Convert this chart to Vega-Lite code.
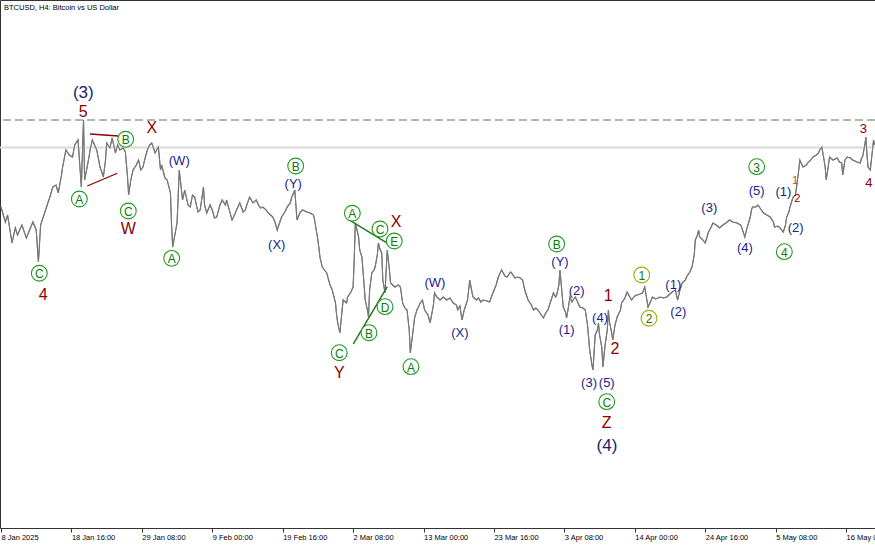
{
"$schema": "https://vega.github.io/schema/vega-lite/v6.json",
"width": 875, "height": 528,
"autosize": "none",
"padding": {"left": 0, "top": 0, "right": 0, "bottom": 17},
"background": "#ffffff",
"title": {"text": "BTCUSD, H4:  Bitcoin vs US Dollar", "anchor": "start", "frame": "group", "orient": "top", "offset": 0, "dy": 11, "dx": 4, "fontSize": 7.5, "font": "Liberation Sans", "fontWeight": "normal", "color": "#000000"},
"config": {"view": {"stroke": "#333333", "strokeWidth": 1}},
"datasets": {
"hl": [{"p":105200,"s":"solid"},{"p":109000,"s":"dash"}],
"px": [
{"b":0,"p":96990},{"b":4,"p":94920},{"b":6,"p":95890},{"b":10,"p":92030},{"b":13,"p":94100},{"b":15,"p":93130},{"b":19,"p":94510},{"b":23,"p":92720},{"b":26,"p":93820},{"b":29,"p":94920},{"b":32,"p":93820},{"b":34,"p":89400},{"b":36,"p":94510},{"b":39,"p":95890},{"b":42,"p":97270},{"b":45,"p":98650},{"b":47,"p":99750},{"b":50,"p":100030},{"b":52,"p":98930},{"b":55,"p":101410},{"b":56,"p":102510},{"b":59,"p":104860},{"b":62,"p":104170},{"b":65,"p":103890},{"b":67,"p":105550},{"b":70,"p":106240},{"b":73,"p":99750},{"b":75,"p":109000},{"b":76,"p":100720},{"b":79,"p":103070},{"b":81,"p":104860},{"b":83,"p":106240},{"b":85,"p":105550},{"b":87,"p":104860},{"b":90,"p":102510},{"b":93,"p":101130},{"b":95,"p":103480},{"b":96,"p":105830},{"b":99,"p":105140},{"b":101,"p":106520},{"b":104,"p":104450},{"b":106,"p":105550},{"b":108,"p":104860},{"b":111,"p":105140},{"b":113,"p":104580},{"b":115,"p":101130},{"b":116,"p":98650},{"b":118,"p":100720},{"b":120,"p":102100},{"b":123,"p":102790},{"b":125,"p":103480},{"b":127,"p":102100},{"b":129,"p":102510},{"b":131,"p":103760},{"b":133,"p":104860},{"b":135,"p":105550},{"b":137,"p":105830},{"b":140,"p":104450},{"b":143,"p":105270},{"b":145,"p":102100},{"b":146,"p":102790},{"b":149,"p":101000},{"b":151,"p":100720},{"b":154,"p":98930},{"b":155,"p":94510},{"b":156,"p":91470},{"b":158,"p":93130},{"b":160,"p":94790},{"b":162,"p":102100},{"b":165,"p":97960},{"b":167,"p":99340},{"b":170,"p":97270},{"b":172,"p":96990},{"b":174,"p":98650},{"b":176,"p":98370},{"b":179,"p":96300},{"b":181,"p":96580},{"b":184,"p":99750},{"b":185,"p":97270},{"b":187,"p":96170},{"b":190,"p":97270},{"b":192,"p":96580},{"b":194,"p":95480},{"b":196,"p":95610},{"b":199,"p":97270},{"b":201,"p":97960},{"b":204,"p":97270},{"b":205,"p":97960},{"b":208,"p":96300},{"b":210,"p":95200},{"b":213,"p":96170},{"b":214,"p":96580},{"b":217,"p":97550},{"b":220,"p":96300},{"b":222,"p":96580},{"b":224,"p":97550},{"b":226,"p":98370},{"b":229,"p":97550},{"b":232,"p":97960},{"b":234,"p":97270},{"b":236,"p":96860},{"b":238,"p":96990},{"b":241,"p":96580},{"b":243,"p":96170},{"b":245,"p":95890},{"b":247,"p":95610},{"b":249,"p":94920},{"b":251,"p":93820},{"b":254,"p":95200},{"b":255,"p":95610},{"b":258,"p":96300},{"b":260,"p":96990},{"b":263,"p":97550},{"b":264,"p":98240},{"b":267,"p":99340},{"b":269,"p":95200},{"b":272,"p":96300},{"b":274,"p":96580},{"b":278,"p":96300},{"b":281,"p":96170},{"b":284,"p":95890},{"b":285,"p":95200},{"b":288,"p":92440},{"b":290,"p":89960},{"b":292,"p":88710},{"b":294,"p":88300},{"b":296,"p":87890},{"b":299,"p":86230},{"b":301,"p":85540},{"b":304,"p":83750},{"b":305,"p":82090},{"b":306,"p":80990},{"b":308,"p":79610},{"b":310,"p":82780},{"b":311,"p":84160},{"b":314,"p":83750},{"b":315,"p":84570},{"b":318,"p":85260},{"b":320,"p":85950},{"b":321,"p":89680},{"b":322,"p":94790},{"b":324,"p":93540},{"b":325,"p":92850},{"b":326,"p":91060},{"b":328,"p":90090},{"b":330,"p":86230},{"b":331,"p":84160},{"b":333,"p":82780},{"b":334,"p":81810},{"b":335,"p":85540},{"b":337,"p":87890},{"b":339,"p":88300},{"b":340,"p":88710},{"b":342,"p":90370},{"b":343,"p":92030},{"b":344,"p":91340},{"b":346,"p":90650},{"b":347,"p":86920},{"b":349,"p":85130},{"b":351,"p":91060},{"b":353,"p":88300},{"b":354,"p":86510},{"b":356,"p":86230},{"b":358,"p":85950},{"b":361,"p":86230},{"b":363,"p":85950},{"b":364,"p":84850},{"b":365,"p":83750},{"b":367,"p":83060},{"b":369,"p":82780},{"b":371,"p":80020},{"b":372,"p":76850},{"b":374,"p":79330},{"b":376,"p":81810},{"b":378,"p":82780},{"b":381,"p":83750},{"b":383,"p":84160},{"b":385,"p":82780},{"b":388,"p":82090},{"b":390,"p":80990},{"b":393,"p":83470},{"b":394,"p":85130},{"b":396,"p":84570},{"b":399,"p":84160},{"b":402,"p":84570},{"b":405,"p":84160},{"b":408,"p":84440},{"b":411,"p":83750},{"b":414,"p":83470},{"b":415,"p":82780},{"b":417,"p":83330},{"b":419,"p":81400},{"b":421,"p":82780},{"b":424,"p":84160},{"b":426,"p":86920},{"b":428,"p":85260},{"b":429,"p":84570},{"b":432,"p":84160},{"b":434,"p":84440},{"b":436,"p":83880},{"b":438,"p":84160},{"b":442,"p":84020},{"b":444,"p":83880},{"b":447,"p":85130},{"b":450,"p":86230},{"b":452,"p":87330},{"b":454,"p":88020},{"b":455,"p":88300},{"b":458,"p":87470},{"b":460,"p":87330},{"b":463,"p":88020},{"b":464,"p":87890},{"b":467,"p":87200},{"b":469,"p":87330},{"b":472,"p":87200},{"b":474,"p":86920},{"b":476,"p":85540},{"b":479,"p":84160},{"b":482,"p":83470},{"b":484,"p":82780},{"b":486,"p":83060},{"b":488,"p":82780},{"b":491,"p":82090},{"b":493,"p":81680},{"b":495,"p":82370},{"b":497,"p":82780},{"b":500,"p":84160},{"b":502,"p":85130},{"b":504,"p":84570},{"b":505,"p":84850},{"b":507,"p":86230},{"b":508,"p":88300},{"b":510,"p":84850},{"b":511,"p":83190},{"b":513,"p":82500},{"b":514,"p":81680},{"b":516,"p":83470},{"b":517,"p":84570},{"b":519,"p":83880},{"b":520,"p":84160},{"b":522,"p":84570},{"b":524,"p":83880},{"b":526,"p":83190},{"b":529,"p":83060},{"b":531,"p":82780},{"b":533,"p":80710},{"b":534,"p":79050},{"b":535,"p":77260},{"b":537,"p":75190},{"b":538,"p":74500},{"b":540,"p":79330},{"b":542,"p":80020},{"b":543,"p":80990},{"b":544,"p":79330},{"b":546,"p":77670},{"b":547,"p":74910},{"b":549,"p":77950},{"b":551,"p":80020},{"b":552,"p":82780},{"b":553,"p":81120},{"b":555,"p":79610},{"b":556,"p":78640},{"b":558,"p":80710},{"b":560,"p":81810},{"b":563,"p":82780},{"b":564,"p":83750},{"b":567,"p":84440},{"b":569,"p":85260},{"b":572,"p":84440},{"b":573,"p":84160},{"b":576,"p":84710},{"b":578,"p":84850},{"b":581,"p":84990},{"b":583,"p":85130},{"b":585,"p":85950},{"b":587,"p":84160},{"b":588,"p":83190},{"b":591,"p":84160},{"b":592,"p":84570},{"b":595,"p":84300},{"b":599,"p":84570},{"b":602,"p":84440},{"b":605,"p":84570},{"b":608,"p":84990},{"b":610,"p":85260},{"b":613,"p":85540},{"b":614,"p":84710},{"b":615,"p":84160},{"b":617,"p":85540},{"b":619,"p":86510},{"b":622,"p":86920},{"b":623,"p":87330},{"b":626,"p":88020},{"b":628,"p":88710},{"b":630,"p":90370},{"b":631,"p":92440},{"b":633,"p":93130},{"b":634,"p":93820},{"b":635,"p":92850},{"b":638,"p":92440},{"b":640,"p":92030},{"b":643,"p":93540},{"b":645,"p":94100},{"b":647,"p":94790},{"b":650,"p":94510},{"b":653,"p":94100},{"b":656,"p":94510},{"b":660,"p":94920},{"b":662,"p":95200},{"b":665,"p":94920},{"b":669,"p":94790},{"b":672,"p":94510},{"b":673,"p":94230},{"b":676,"p":92850},{"b":678,"p":94100},{"b":681,"p":95610},{"b":682,"p":96580},{"b":683,"p":96990},{"b":686,"p":96990},{"b":688,"p":97270},{"b":691,"p":96580},{"b":693,"p":96170},{"b":696,"p":95890},{"b":699,"p":95610},{"b":702,"p":94920},{"b":703,"p":94230},{"b":706,"p":94370},{"b":708,"p":94100},{"b":711,"p":93540},{"b":713,"p":94510},{"b":714,"p":95610},{"b":716,"p":96300},{"b":717,"p":96990},{"b":719,"p":97960},{"b":720,"p":98370},{"b":722,"p":98650},{"b":723,"p":99750},{"b":725,"p":102100},{"b":726,"p":103480},{"b":728,"p":102790},{"b":729,"p":102510},{"b":732,"p":102790},{"b":733,"p":103070},{"b":736,"p":103480},{"b":738,"p":103890},{"b":741,"p":104170},{"b":743,"p":104450},{"b":744,"p":104860},{"b":746,"p":105270},{"b":748,"p":103480},{"b":749,"p":102510},{"b":750,"p":100720},{"b":752,"p":102790},{"b":753,"p":103890},{"b":756,"p":103480},{"b":760,"p":103760},{"b":762,"p":103200},{"b":764,"p":103070},{"b":765,"p":101410},{"b":767,"p":103480},{"b":769,"p":103890},{"b":772,"p":103760},{"b":774,"p":103480},{"b":778,"p":103200},{"b":781,"p":103070},{"b":782,"p":103760},{"b":783,"p":103890},{"b":785,"p":105550},{"b":786,"p":106650},{"b":787,"p":104170},{"b":788,"p":102510},{"b":790,"p":102100},{"b":792,"p":104860},{"b":793,"p":106240},{"b":794,"p":105550}
],
"lb": [
{"b":74.8,"p":112690,"t":"(3)","k":"N"},
{"b":74.8,"p":110150,"t":"5","k":"r"},
{"b":71.2,"p":98100,"t":"A","k":"c"},
{"b":113.3,"p":106340,"t":"B","k":"c"},
{"b":137,"p":107860,"t":"X","k":"r"},
{"b":115.7,"p":96440,"t":"C","k":"c"},
{"b":115.7,"p":93920,"t":"W","k":"r"},
{"b":34.8,"p":87850,"t":"C","k":"c"},
{"b":38.4,"p":84850,"t":"4","k":"r"},
{"b":162,"p":103380,"t":"(W)","k":"n"},
{"b":155.1,"p":89910,"t":"A","k":"c"},
{"b":267.8,"p":102650,"t":"B","k":"c"},
{"b":265.6,"p":100170,"t":"(Y)","k":"n"},
{"b":250.6,"p":91750,"t":"(X)","k":"n"},
{"b":319.3,"p":96130,"t":"A","k":"c"},
{"b":344.4,"p":93960,"t":"C","k":"c"},
{"b":359,"p":94880,"t":"X","k":"r"},
{"b":357.4,"p":92300,"t":"E","k":"c"},
{"b":349,"p":83240,"t":"D","k":"c"},
{"b":334.4,"p":79650,"t":"B","k":"c"},
{"b":307.4,"p":76890,"t":"C","k":"c"},
{"b":307.4,"p":74130,"t":"Y","k":"r"},
{"b":372.6,"p":74960,"t":"A","k":"c"},
{"b":394.4,"p":86470,"t":"(W)","k":"n"},
{"b":417.1,"p":79650,"t":"(X)","k":"n"},
{"b":505,"p":91890,"t":"B","k":"c"},
{"b":508,"p":89450,"t":"(Y)","k":"n"},
{"b":514.1,"p":80020,"t":"(1)","k":"n"},
{"b":523.2,"p":85440,"t":"(2)","k":"n"},
{"b":534.4,"p":72670,"t":"(3)","k":"n"},
{"b":544.4,"p":81640,"t":"(4)","k":"n"},
{"b":550.5,"p":72670,"t":"(5)","k":"n"},
{"b":550.5,"p":70130,"t":"C","k":"c"},
{"b":550.5,"p":67230,"t":"Z","k":"r"},
{"b":550.7,"p":64010,"t":"(4)","k":"N"},
{"b":551.9,"p":84750,"t":"1","k":"r"},
{"b":558,"p":77360,"t":"2","k":"r"},
{"b":582.3,"p":87610,"t":"1","k":"y"},
{"b":588.9,"p":81640,"t":"2","k":"y"},
{"b":611,"p":86230,"t":"(1)","k":"n"},
{"b":615.5,"p":82550,"t":"(2)","k":"n"},
{"b":643.7,"p":96820,"t":"(3)","k":"n"},
{"b":676.1,"p":91300,"t":"(4)","k":"n"},
{"b":686.8,"p":99200,"t":"(5)","k":"n"},
{"b":686.8,"p":102560,"t":"3","k":"c"},
{"b":711,"p":99110,"t":"(1)","k":"n"},
{"b":721.6,"p":100580,"t":"1","k":"o"},
{"b":723.7,"p":98060,"t":"2","k":"s"},
{"b":722.2,"p":94060,"t":"(2)","k":"n"},
{"b":711.9,"p":90830,"t":"4","k":"c"},
{"b":783.7,"p":107760,"t":"3","k":"m"},
{"b":788.8,"p":100350,"t":"4","k":"m"}
],
"tl": [
{"b":80.9,"p":107070,"b2":106.6,"p2":106790,"g":"r"},
{"b":78.4,"p":99890,"b2":105.7,"p2":101650,"g":"r"},
{"b":315.6,"p":95300,"b2":357.4,"p2":91430,"g":"g"},
{"b":320.2,"p":78090,"b2":351.1,"p2":86000,"g":"g"}
]
},
"layer": [
{"data": {"name": "px"},
 "mark": {"type": "line", "color": "#787878", "strokeWidth": 1.1},
 "encoding": {
  "x": {"field": "b", "type": "quantitative", "title": null, "scale": {"domain": [-0.91, 794.3], "nice": false, "zero": false},
   "axis": {"title": null, "domain": false, "grid": false, "ticks": true, "tickSize": 4, "tickColor": "#333333",
    "values": [0, 64, 128, 192, 256, 320, 384, 448, 512, 576, 640, 704, 768],
    "labelExpr": "utcFormat(utc(2025,0,8) + datum.value*14400000, datum.value == 0 ? '%-d %b %Y' : '%-d %b %H:%M')",
    "labelFont": "Liberation Sans", "labelFontSize": 7.5, "labelColor": "#000000", "labelAlign": "left", "labelBaseline": "top",
    "labelPadding": 1, "labelOverlap": false, "labelBound": false, "labelFlush": false}},
  "y": {"field": "p", "type": "quantitative", "title": null, "scale": {"domain": [52696, 125560], "nice": false, "zero": false}, "axis": null}}},
{"data": {"name": "hl"}, "transform": [{"filter": "datum.s == 'solid'"}],
 "mark": {"type": "rule", "color": "#dadada", "strokeWidth": 2},
 "encoding": {"y": {"field": "p", "type": "quantitative", "title": null, "axis": null}}},
{"data": {"name": "hl"}, "transform": [{"filter": "datum.s == 'dash'"}],
 "mark": {"type": "rule", "color": "#5a755a", "strokeWidth": 1, "strokeDash": [8, 4]},
 "encoding": {"y": {"field": "p", "type": "quantitative", "title": null, "axis": null}}},
{"data": {"name": "px"},
 "mark": {"type": "line", "color": "#787878", "strokeWidth": 1.1},
 "encoding": {"x": {"field": "b", "type": "quantitative", "title": null}, "y": {"field": "p", "type": "quantitative", "title": null, "axis": null}}},
{"data": {"name": "tl"}, "transform": [{"filter": "datum.g == 'r'"}],
 "mark": {"type": "rule", "color": "#8b0000", "strokeWidth": 1.3},
 "encoding": {"x": {"field": "b", "type": "quantitative", "title": null}, "y": {"field": "p", "type": "quantitative", "title": null, "axis": null},
  "x2": {"field": "b2"}, "y2": {"field": "p2"}}},
{"data": {"name": "tl"}, "transform": [{"filter": "datum.g == 'g'"}],
 "mark": {"type": "rule", "color": "#1f7a1f", "strokeWidth": 1.5},
 "encoding": {"x": {"field": "b", "type": "quantitative", "title": null}, "y": {"field": "p", "type": "quantitative", "title": null, "axis": null},
  "x2": {"field": "b2"}, "y2": {"field": "p2"}}},
{"data": {"name": "lb"}, "transform": [{"filter": "datum.k == 'c'"}],
 "mark": {"type": "point", "shape": "circle", "size": 250, "filled": true, "fill": "#ffffff", "fillOpacity": 1, "stroke": "#229922", "strokeWidth": 1.1, "opacity": 1},
 "encoding": {"x": {"field": "b", "type": "quantitative", "title": null}, "y": {"field": "p", "type": "quantitative", "title": null, "axis": null}}},
{"data": {"name": "lb"}, "transform": [{"filter": "datum.k == 'y'"}],
 "mark": {"type": "point", "shape": "circle", "size": 250, "filled": true, "fill": "#ffffff", "fillOpacity": 1, "stroke": "#a8a800", "strokeWidth": 1.1, "opacity": 1},
 "encoding": {"x": {"field": "b", "type": "quantitative", "title": null}, "y": {"field": "p", "type": "quantitative", "title": null, "axis": null}}},
{"data": {"name": "lb"}, "transform": [{"filter": "datum.k == 'c' || datum.k == 'y'"}],
 "mark": {"type": "text", "font": "Liberation Sans", "fontSize": 12, "color": "#0d7a0d", "align": "center", "baseline": "middle", "dy": 1},
 "encoding": {"x": {"field": "b", "type": "quantitative", "title": null}, "y": {"field": "p", "type": "quantitative", "title": null, "axis": null}, "text": {"field": "t"}}},
{"data": {"name": "lb"}, "transform": [{"filter": "datum.k == 'n'"}],
 "mark": {"type": "text", "font": "Liberation Sans", "fontSize": 13, "color": "#1c1c8a", "align": "center", "baseline": "middle"},
 "encoding": {"x": {"field": "b", "type": "quantitative", "title": null}, "y": {"field": "p", "type": "quantitative", "title": null, "axis": null}, "text": {"field": "t"}}},
{"data": {"name": "lb"}, "transform": [{"filter": "datum.k == 'N'"}],
 "mark": {"type": "text", "font": "Liberation Sans", "fontSize": 17, "color": "#1c1c6e", "align": "center", "baseline": "middle"},
 "encoding": {"x": {"field": "b", "type": "quantitative", "title": null}, "y": {"field": "p", "type": "quantitative", "title": null, "axis": null}, "text": {"field": "t"}}},
{"data": {"name": "lb"}, "transform": [{"filter": "datum.k == 'r'"}],
 "mark": {"type": "text", "font": "Liberation Sans", "fontSize": 16, "color": "#8b0000", "align": "center", "baseline": "middle"},
 "encoding": {"x": {"field": "b", "type": "quantitative", "title": null}, "y": {"field": "p", "type": "quantitative", "title": null, "axis": null}, "text": {"field": "t"}}},
{"data": {"name": "lb"}, "transform": [{"filter": "datum.k == 'm'"}],
 "mark": {"type": "text", "font": "Liberation Sans", "fontSize": 13, "color": "#8b0000", "align": "center", "baseline": "middle"},
 "encoding": {"x": {"field": "b", "type": "quantitative", "title": null}, "y": {"field": "p", "type": "quantitative", "title": null, "axis": null}, "text": {"field": "t"}}},
{"data": {"name": "lb"}, "transform": [{"filter": "datum.k == 's'"}],
 "mark": {"type": "text", "font": "Liberation Sans", "fontSize": 11, "color": "#8b0000", "align": "center", "baseline": "middle"},
 "encoding": {"x": {"field": "b", "type": "quantitative", "title": null}, "y": {"field": "p", "type": "quantitative", "title": null, "axis": null}, "text": {"field": "t"}}},
{"data": {"name": "lb"}, "transform": [{"filter": "datum.k == 'o'"}],
 "mark": {"type": "text", "font": "Liberation Sans", "fontSize": 11, "color": "#b5531d", "align": "center", "baseline": "middle"},
 "encoding": {"x": {"field": "b", "type": "quantitative", "title": null}, "y": {"field": "p", "type": "quantitative", "title": null, "axis": null}, "text": {"field": "t"}}}
]
}
